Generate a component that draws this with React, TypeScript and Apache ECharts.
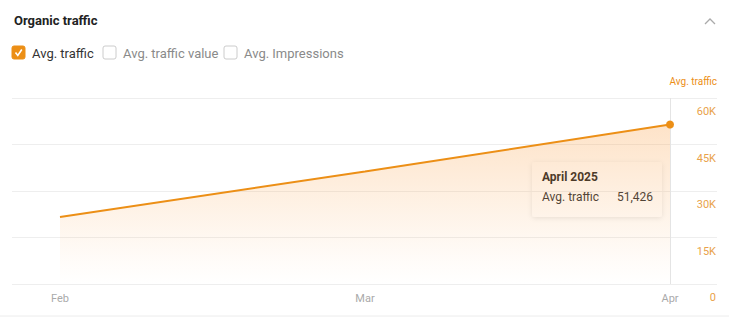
import React, { useEffect, useRef } from "react";
import * as echarts from "echarts";

const categories = ["Feb", "Mar", "Apr"];
const avgTraffic = [21600, 36300, 51426];
const yTicks = [0, 15000, 30000, 45000, 60000];
const legendItems = ["Avg. traffic", "Avg. traffic value", "Avg. Impressions"];
const tooltipTitle = "April 2025";
const axisName = "Avg. traffic";

const ORANGE = "#ec8f16";
const FONT = "Roboto, 'Noto Sans', sans-serif";

export default function App() {
  const ref = useRef<HTMLDivElement>(null);
  useEffect(() => {
    if (!ref.current) return;
    const chart = echarts.init(ref.current, undefined, { renderer: "svg" });
    const last = avgTraffic.length - 1;
    const fmtK = (v: number) => (v === 0 ? "0" : `${v / 1000}K`);

    const legendX = [12, 103, 224];
    const legendGraphics: any[] = [];
    legendItems.forEach((name, i) => {
      const x = legendX[i];
      const checked = i === 0;
      legendGraphics.push({
        type: "rect",
        shape: { x, y: 46, width: 13, height: 13, r: 2 },
        style: checked
          ? { fill: ORANGE, stroke: ORANGE, lineWidth: 1 }
          : { fill: "#fff", stroke: "#cccccc", lineWidth: 1 },
      });
      if (checked) {
        legendGraphics.push({
          type: "polyline",
          shape: { points: [[x + 3.5, 52.5], [x + 5.8, 55.5], [x + 9.8, 49.5]] },
          style: { stroke: "#fff", lineWidth: 1.6, fill: "none" },
        });
      }
      legendGraphics.push({
        type: "text",
        x: x + 20,
        y: 53,
        style: {
          text: name,
          fill: checked ? "#333" : "#8a8a8a",
          font: `13px ${FONT}`,
          verticalAlign: "middle",
        },
      });
    });

    chart.setOption({
      animation: false,
      grid: [
        { left: 12, right: 12, top: 98, bottom: 39, outerBoundsMode: "none", containLabel: false },
        { left: 60, right: 59, top: 98, bottom: 39, outerBoundsMode: "none", containLabel: false },
      ],
      xAxis: [
        { type: "value", gridIndex: 0, show: false, min: 0, max: 1 },
        {
          type: "category",
          gridIndex: 1,
          data: categories,
          boundaryGap: false,
          axisLine: { show: false },
          axisTick: { show: false },
          axisLabel: { color: "#aaa", fontSize: 11, fontFamily: FONT, margin: 9 },
          splitLine: { show: false },
        },
      ],
      yAxis: [
        {
          type: "value",
          gridIndex: 0,
          position: "right",
          min: 0,
          max: 60000,
          interval: 15000,
          axisLine: { show: false },
          axisTick: { show: false },
          axisLabel: {
            inside: true,
            margin: 1,
            color: "#e9a24a",
            fontSize: 11,
            fontFamily: FONT,
            verticalAlign: "top",
            padding: [8, 0, 0, 0],
            formatter: (v: number) => (yTicks.includes(v) ? fmtK(v) : ""),
          },
          splitLine: { lineStyle: { color: "#eeeeee", width: 1 } },
        },
        { type: "value", gridIndex: 1, show: false, min: 0, max: 60000 },
      ],
      series: [
        {
          type: "line",
          xAxisIndex: 1,
          yAxisIndex: 1,
          clip: false,
          showSymbol: false,
          symbol: "none",
          data: avgTraffic,
          lineStyle: { color: ORANGE, width: 2 },
          itemStyle: { color: ORANGE },
          areaStyle: {
            color: new echarts.graphic.LinearGradient(0, 0, 0, 1, [
              { offset: 0, color: "rgba(250, 160, 70, 0.42)" },
              { offset: 0.85, color: "rgba(250, 160, 70, 0.05)" },
              { offset: 1, color: "rgba(250, 160, 70, 0)" },
            ]),
          },
          markLine: {
            silent: true,
            symbol: "none",
            label: { show: false },
            lineStyle: { color: "#e4e4e4", type: "solid", width: 1 },
            data: [{ xAxis: categories[last] }],
          },
        },
        {
          type: "scatter",
          xAxisIndex: 1,
          yAxisIndex: 1,
          clip: false,
          z: 10,
          symbolSize: 8,
          itemStyle: { color: ORANGE, opacity: 1 },
          data: [[categories[last], avgTraffic[last]]],
        },
      ],
      graphic: [
        {
          type: "text",
          x: 14,
          y: 20,
          style: { text: "Organic traffic", fill: "#222", font: `bold 13px ${FONT}`, verticalAlign: "middle" },
        },
        {
          type: "polyline",
          shape: { points: [[705, 24], [710, 19], [715, 24]] },
          style: { stroke: "#aaa", lineWidth: 1.3, fill: "none" },
        },
        ...legendGraphics,
        {
          type: "text",
          x: 717,
          y: 81,
          style: { text: axisName, fill: ORANGE, font: `10px ${FONT}`, align: "right", verticalAlign: "middle" },
        },
        {
          type: "line",
          shape: { x1: 0, y1: 316, x2: 729, y2: 316 },
          style: { stroke: "#ececec", lineWidth: 1 },
        },
        {
          type: "group",
          x: 532,
          y: 162,
          children: [
            {
              type: "rect",
              shape: { x: 0, y: 0, width: 130, height: 55, r: 3 },
              style: { fill: "#fff", shadowBlur: 5, shadowColor: "rgba(0,0,0,0.10)", shadowOffsetY: 1 },
            },
            {
              type: "text",
              x: 10,
              y: 15,
              style: { text: tooltipTitle, fill: "#222", font: `bold 12px ${FONT}`, verticalAlign: "middle" },
            },
            {
              type: "text",
              x: 10,
              y: 35,
              style: { text: "Avg. traffic", fill: "#333", font: `12px ${FONT}`, verticalAlign: "middle" },
            },
            {
              type: "text",
              x: 121,
              y: 35,
              style: {
                text: avgTraffic[last].toLocaleString("en-US"),
                fill: "#333",
                font: `12px ${FONT}`,
                align: "right",
                verticalAlign: "middle",
              },
            },
          ],
        },
      ],
    });
    return () => chart.dispose();
  }, []);
  return (
    <div
      ref={ref}
      style={{ position: "fixed", left: 0, top: 0, width: 729, height: 323, background: "#fff" }}
    />
  );
}
